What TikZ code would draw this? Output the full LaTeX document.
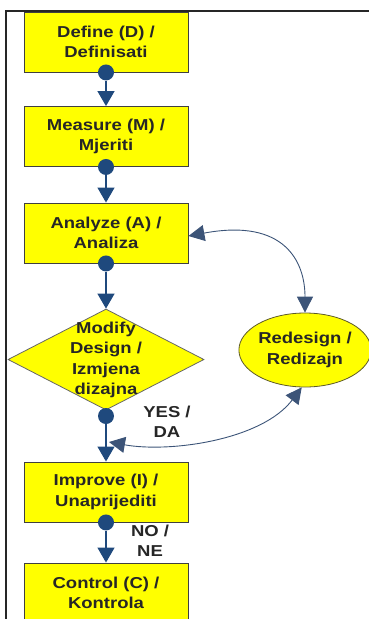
\documentclass[tikz,border=0pt]{standalone}
\usepackage{fontspec}
\setmainfont{Liberation Sans}[FakeStretch=1.17]
\usetikzlibrary{arrows.meta,shapes.geometric}
\definecolor{dblue}{HTML}{1F497D}
\definecolor{arcblue}{HTML}{3C5478}
\definecolor{yfill}{HTML}{FFFF00}
\begin{document}
\begin{tikzpicture}[x=1pt,y=-1pt,
  txt/.style={font=\fontsize{15.8}{20.5}\selectfont\bfseries, align=center, text=black!85},
  stepbox/.style={txt, draw=black!75, line width=0.9pt, fill=yfill, minimum width=164pt, minimum height=60pt, inner sep=0pt},
  dot/.style={circle, fill=dblue, minimum size=16pt, inner sep=0pt},
  flow/.style={draw=dblue, line width=1.3pt, -{Triangle[width=17pt,length=15pt]}},
  arcline/.style={draw=arcblue, line width=0.9pt, {Triangle[width=16pt,length=16pt]}-{Triangle[width=16pt,length=16pt]}},
  lbl/.style={txt}
]
\useasboundingbox (0,0) rectangle (369,619);
% frame
\draw[line width=1.3pt, black!85] (369,11) -- (6,11) -- (6,619);

\node[stepbox] (D) at (106,42) {Define (D) /\\Definisati};
\node[stepbox] (M) at (106,136.5) {Measure (M) /\\Mjeriti};
\node[stepbox] (A) at (106,233) {Analyze (A) /\\Analiza};
\node[diamond, draw=black!60, line width=0.8pt, fill=yfill, minimum width=196pt, minimum height=101pt, inner sep=0pt] (MD) at (106,359.5) {};
\node[txt] (MDt) at (106,360) {Modify\\Design /\\Izmjena\\dizajna};
\node[ellipse, draw=black!45!olive, line width=0.8pt, fill=yfill, minimum width=126pt, minimum height=74pt, inner sep=0pt, txt] (R) at (305,350) {Redesign /\\Redizajn};
\node[stepbox] (I) at (106,492) {Improve (I) /\\Unaprijediti};
\node[stepbox] (C) at (106,593) {Control (C) /\\Kontrola};

\node[dot] (dD) at (D.south) {};
\node[dot] (dM) at (M.south) {};
\node[dot] (dA) at (A.south) {};
\node[dot] (dMD) at (106,416) {};
\node[dot] (dI) at (I.south) {};

\draw[flow] (dD) -- (M.north);
\draw[flow] (dM) -- (A.north);
\draw[flow] (dA) -- (MD.north);
\draw[flow] (dMD) -- (I.north);
\draw[flow] (dI) -- (C.north);

\coordinate (yesend) at (109,442);
\draw[arcline] ([yshift=-3pt]A.east) .. controls (285,218) and (305,262) .. (R.north);
\draw[arcline] (yesend) .. controls (170,453) and (262,440) .. (R.-95);

\node[lbl] (yes) at (167,422) {YES /\\DA};
\node[lbl] (no) at (150,541) {NO /\\NE};
\end{tikzpicture}
\end{document}
